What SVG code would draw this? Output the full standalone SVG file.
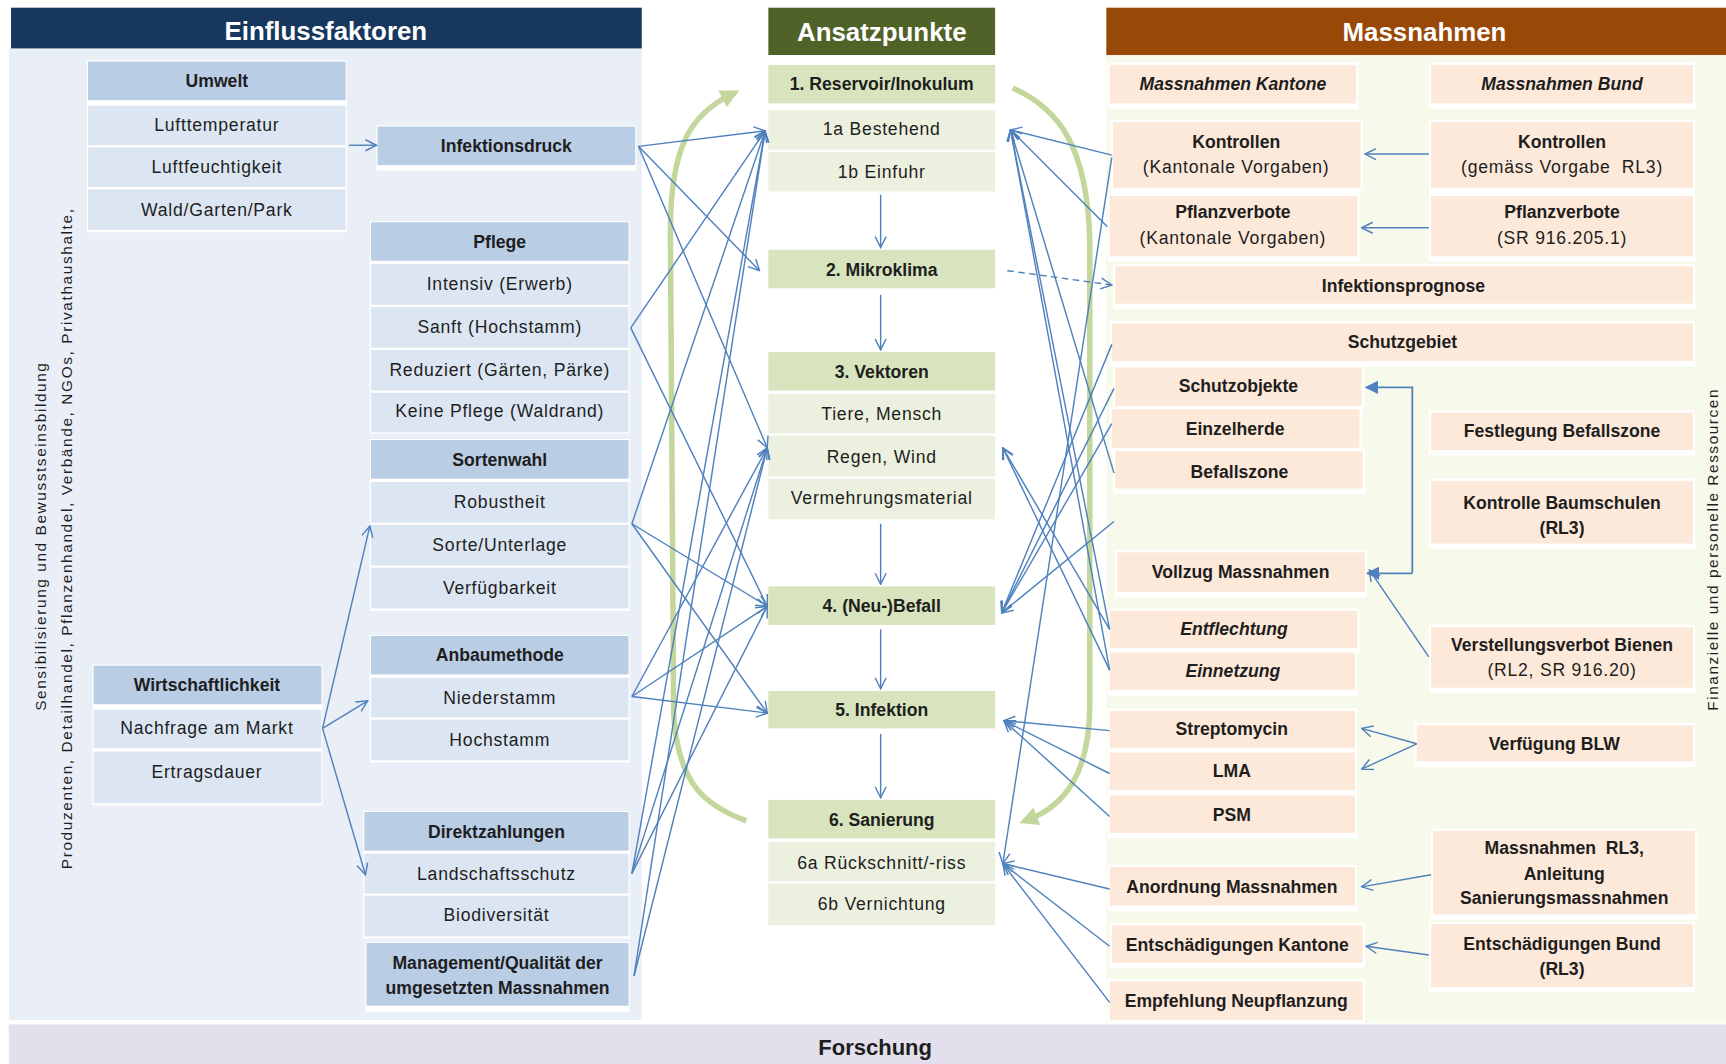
<svg xmlns="http://www.w3.org/2000/svg" width="1726" height="1064" viewBox="0 0 1726 1064">
<defs>
<style>
text{font-family:"Liberation Sans",Arial,sans-serif;fill:#1e1e1e;text-anchor:middle;dominant-baseline:central}
.r{font-size:16px;letter-spacing:0.7px}
.b{font-size:16px;font-weight:bold}
.bi{font-size:16px;font-weight:bold;font-style:italic}
.hd{font-size:23.5px;font-weight:bold;fill:#fff}
.vt{font-size:14px}
.fo{font-size:20px;font-weight:bold}
.pre{white-space:pre}
.sh{fill:#fff}
.lh{fill:#B9CDE5}
.li{fill:#DCE6F2}
.mh{fill:#D7E4BD}
.mi{fill:#EBF1DE}
.o{fill:#FDE9D9}
.c{fill:none;stroke:#4F81BD;stroke-width:1.3;marker-end:url(#v)}
.cf{fill:none;stroke:#4F81BD;stroke-width:1.6;marker-end:url(#ft)}
.cd{stroke-dasharray:6 4}
.gr{fill:none;stroke:#C3D69B;stroke-width:5;marker-end:url(#ga)}
</style>
<marker id="v" viewBox="0 0 12 12" refX="11" refY="6" markerWidth="12" markerHeight="12" markerUnits="userSpaceOnUse" orient="auto"><path d="M1,1 L11,6 L1,11" fill="none" stroke="#4F81BD" stroke-width="1.3"/></marker>
<marker id="ft" viewBox="0 0 10 10" refX="9" refY="5" markerWidth="12" markerHeight="12" markerUnits="userSpaceOnUse" orient="auto"><path d="M0,0 L10,5 L0,10 Z" fill="#4F81BD"/></marker>
<marker id="ga" viewBox="0 0 10 10" refX="5" refY="5" markerWidth="17" markerHeight="17" markerUnits="userSpaceOnUse" orient="auto"><path d="M0,0 L10,5 L0,10 Z" fill="#C3D69B"/></marker>
</defs>
<rect width="1726" height="1064" fill="#fff"/>
<g transform="scale(1.1008 1.1003)">

<!-- panels -->
<g id="panels">
<rect x="8" y="44" width="575" height="883" fill="#EAEFF7"/>
<rect x="1005" y="50" width="563" height="880" fill="#F7F9EA"/>
<rect x="8" y="931" width="1560" height="36" fill="#E4DFEC"/>
<text class="fo" x="795" y="952">Forschung</text>
</g>

<!-- column headers -->
<g id="hdr-einfluss"><rect x="10" y="7" width="573" height="37" fill="#17375E"/><text class="hd" x="296" y="28">Einflussfaktoren</text></g>
<g id="hdr-ansatz"><rect x="698" y="7" width="206" height="43" fill="#4F6228"/><text class="hd" x="801" y="29">Ansatzpunkte</text></g>
<g id="hdr-massnahmen"><rect x="1005" y="7" width="563" height="43" fill="#984807"/><text class="hd" x="1294" y="29">Massnahmen</text></g>

<!-- side labels -->
<g id="side-left">
<text class="vt" transform="translate(37 488) rotate(-90)" textLength="316" lengthAdjust="spacing">Sensibilisierung und Bewusstseinsbildung</text>
<text class="vt" transform="translate(60 490) rotate(-90)" textLength="600" lengthAdjust="spacing">Produzenten, Detailhandel, Pflanzenhandel, Verbände, NGOs,  Privathaushalte,</text>
</g>
<g id="side-right">
<text class="vt" transform="translate(1556 500) rotate(-90)" textLength="292" lengthAdjust="spacing">Finanzielle und personelle Ressourcen</text>
</g>

<!-- Einflussfaktoren -->
<g id="umwelt">
<rect class="sh" x="79" y="55" width="236" height="156"/>
<rect class="lh" x="80" y="56" width="234" height="35"/><text class="b" x="197" y="74">Umwelt</text>
<rect class="li" x="80" y="96" width="234" height="36"/><text class="r" x="197" y="114">Lufttemperatur</text>
<rect class="li" x="80" y="134" width="234" height="36"/><text class="r" x="197" y="152">Luftfeuchtigkeit</text>
<rect class="li" x="80" y="172" width="234" height="37"/><text class="r" x="197" y="191">Wald/Garten/Park</text>
</g>
<g id="infektionsdruck">
<rect class="sh" x="342" y="114" width="236" height="41"/>
<rect class="lh" x="343" y="115" width="234" height="35"/><text class="b" x="460" y="133">Infektionsdruck</text>
</g>
<g id="pflege">
<rect class="sh" x="336" y="201" width="236" height="193"/>
<rect class="lh" x="337" y="202" width="234" height="35"/><text class="b" x="454" y="220">Pflege</text>
<rect class="li" x="337" y="240" width="234" height="37"/><text class="r" x="454" y="258">Intensiv (Erwerb)</text>
<rect class="li" x="337" y="279" width="234" height="37"/><text class="r" x="454" y="297">Sanft (Hochstamm)</text>
<rect class="li" x="337" y="318" width="234" height="37"/><text class="r" x="454" y="336">Reduziert (Gärten, Pärke)</text>
<rect class="li" x="337" y="357" width="234" height="36"/><text class="r" x="454" y="374">Keine Pflege (Waldrand)</text>
</g>
<g id="sortenwahl">
<rect class="sh" x="336" y="399" width="236" height="156"/>
<rect class="lh" x="337" y="400" width="234" height="35"/><text class="b" x="454" y="418">Sortenwahl</text>
<rect class="li" x="337" y="438" width="234" height="37"/><text class="r" x="454" y="456">Robustheit</text>
<rect class="li" x="337" y="477" width="234" height="37"/><text class="r" x="454" y="495">Sorte/Unterlage</text>
<rect class="li" x="337" y="516" width="234" height="37"/><text class="r" x="454" y="534">Verfügbarkeit</text>
</g>
<g id="anbaumethode">
<rect class="sh" x="336" y="577" width="236" height="116"/>
<rect class="lh" x="337" y="578" width="234" height="35"/><text class="b" x="454" y="595">Anbaumethode</text>
<rect class="li" x="337" y="616" width="234" height="36"/><text class="r" x="454" y="634">Niederstamm</text>
<rect class="li" x="337" y="654" width="234" height="37"/><text class="r" x="454" y="673">Hochstamm</text>
</g>
<g id="direktzahlungen">
<rect class="sh" x="330" y="737" width="242" height="116"/>
<rect class="lh" x="331" y="738" width="240" height="35"/><text class="b" x="451" y="756">Direktzahlungen</text>
<rect class="li" x="331" y="776" width="240" height="36"/><text class="r" x="451" y="794">Landschaftsschutz</text>
<rect class="li" x="331" y="814" width="240" height="37"/><text class="r" x="451" y="832">Biodiversität</text>
</g>
<g id="management">
<rect class="sh" x="332" y="856" width="240" height="64"/>
<rect class="lh" x="333" y="857" width="238" height="57"/>
<text class="b" x="452" y="875">Management/Qualität der</text>
<text class="b" x="452" y="898">umgesetzten Massnahmen</text>
</g>
<g id="wirtschaftlichkeit">
<rect class="sh" x="84" y="604" width="209" height="128"/>
<rect class="lh" x="85" y="605" width="207" height="35"/><text class="b" x="188" y="623">Wirtschaftlichkeit</text>
<rect class="li" x="85" y="645" width="207" height="35"/><text class="r" x="188" y="662">Nachfrage am Markt</text>
<rect class="li" x="85" y="683" width="207" height="47"/><text class="r" x="188" y="702">Ertragsdauer</text>
</g>

<!-- Ansatzpunkte -->
<g id="reservoir">
<rect class="mh" x="698" y="59" width="206" height="35"/><text class="b" x="801" y="76">1. Reservoir/Inokulum</text>
<rect class="mi" x="698" y="100" width="206" height="36"/><text class="r" x="801" y="117">1a Bestehend</text>
<rect class="mi" x="698" y="138" width="206" height="36"/><text class="r" x="801" y="156">1b Einfuhr</text>
</g>
<g id="mikroklima">
<rect class="mh" x="698" y="227" width="206" height="35"/><text class="b" x="801" y="245">2. Mikroklima</text>
</g>
<g id="vektoren">
<rect class="mh" x="698" y="320" width="206" height="35"/><text class="b" x="801" y="338">3. Vektoren</text>
<rect class="mi" x="698" y="358" width="206" height="36"/><text class="r" x="801" y="376">Tiere, Mensch</text>
<rect class="mi" x="698" y="396" width="206" height="37"/><text class="r" x="801" y="415">Regen, Wind</text>
<rect class="mi" x="698" y="435" width="206" height="37"/><text class="r" x="801" y="453">Vermehrungsmaterial</text>
</g>
<g id="befall">
<rect class="mh" x="698" y="533" width="206" height="35"/><text class="b" x="801" y="551">4. (Neu-)Befall</text>
</g>
<g id="infektion">
<rect class="mh" x="698" y="628" width="206" height="34"/><text class="b" x="801" y="645">5. Infektion</text>
</g>
<g id="sanierung">
<rect class="mh" x="698" y="727" width="206" height="35"/><text class="b" x="801" y="745">6. Sanierung</text>
<rect class="mi" x="698" y="765" width="206" height="36"/><text class="r" x="801" y="784">6a Rückschnitt/-riss</text>
<rect class="mi" x="698" y="803" width="206" height="38"/><text class="r" x="801" y="822">6b Vernichtung</text>
</g>

<!-- Massnahmen -->
<g id="m-kantone"><rect class="sh" x="1006" y="57" width="228" height="42"/><rect class="o" x="1008" y="59" width="224" height="35"/><text class="bi" x="1120" y="76">Massnahmen Kantone</text></g>
<g id="m-bund"><rect class="sh" x="1298" y="57" width="242" height="42"/><rect class="o" x="1300" y="59" width="238" height="35"/><text class="bi" x="1419" y="76">Massnahmen Bund</text></g>
<g id="kontrollen-k"><rect class="sh" x="1009" y="109" width="229" height="67"/><rect class="o" x="1011" y="111" width="225" height="60"/><text class="b" x="1123" y="129">Kontrollen</text><text class="r" x="1123" y="152">(Kantonale Vorgaben)</text></g>
<g id="kontrollen-b"><rect class="sh" x="1298" y="109" width="242" height="67"/><rect class="o" x="1300" y="111" width="238" height="60"/><text class="b" x="1419" y="129">Kontrollen</text><text class="r pre" x="1419" y="152">(gemäss Vorgabe  RL3)</text></g>
<g id="pflanzverbote-k"><rect class="sh" x="1006" y="176" width="229" height="62"/><rect class="o" x="1008" y="178" width="225" height="55"/><text class="b" x="1120" y="193">Pflanzverbote</text><text class="r" x="1120" y="216">(Kantonale Vorgaben)</text></g>
<g id="pflanzverbote-b"><rect class="sh" x="1298" y="176" width="242" height="62"/><rect class="o" x="1300" y="178" width="238" height="55"/><text class="b" x="1419" y="193">Pflanzverbote</text><text class="r" x="1419" y="216">(SR 916.205.1)</text></g>
<g id="infektionsprognose"><rect class="sh" x="1011" y="240" width="529" height="41"/><rect class="o" x="1013" y="242" width="525" height="34"/><text class="b" x="1275" y="260">Infektionsprognose</text></g>
<g id="schutzgebiet"><rect class="sh" x="1008" y="292" width="532" height="41"/><rect class="o" x="1010" y="294" width="528" height="34"/><text class="b" x="1274" y="311">Schutzgebiet</text></g>
<g id="schutzobjekte"><rect class="sh" x="1011" y="332" width="228" height="41"/><rect class="o" x="1013" y="334" width="224" height="35"/><text class="b" x="1125" y="351">Schutzobjekte</text></g>
<g id="einzelherde"><rect class="sh" x="1008" y="370" width="229" height="42"/><rect class="o" x="1010" y="372" width="225" height="35"/><text class="b" x="1122" y="390">Einzelherde</text></g>
<g id="befallszone"><rect class="sh" x="1011" y="408" width="229" height="41"/><rect class="o" x="1013" y="410" width="225" height="34"/><text class="b" x="1126" y="429">Befallszone</text></g>
<g id="festlegung"><rect class="sh" x="1298" y="373" width="242" height="41"/><rect class="o" x="1300" y="375" width="238" height="34"/><text class="b" x="1419" y="392">Festlegung Befallszone</text></g>
<g id="kontrolle-baumschulen"><rect class="sh" x="1298" y="435" width="242" height="64"/><rect class="o" x="1300" y="437" width="238" height="57"/><text class="b" x="1419" y="457">Kontrolle Baumschulen</text><text class="b" x="1419" y="480">(RL3)</text></g>
<g id="vollzug"><rect class="sh" x="1013" y="500" width="229" height="43"/><rect class="o" x="1015" y="502" width="225" height="36"/><text class="b" x="1127" y="520">Vollzug Massnahmen</text></g>
<g id="entflechtung"><rect class="sh" x="1006" y="553" width="229" height="41"/><rect class="o" x="1008" y="555" width="225" height="34"/><text class="bi" x="1121" y="572">Entflechtung</text></g>
<g id="einnetzung"><rect class="sh" x="1006" y="591" width="227" height="41"/><rect class="o" x="1008" y="593" width="223" height="34"/><text class="bi" x="1120" y="610">Einnetzung</text></g>
<g id="verstellungsverbot"><rect class="sh" x="1298" y="568" width="242" height="62"/><rect class="o" x="1300" y="570" width="238" height="55"/><text class="b" x="1419" y="586">Verstellungsverbot Bienen</text><text class="r" x="1419" y="609">(RL2, SR 916.20)</text></g>
<g id="streptomycin"><rect class="sh" x="1006" y="644" width="227" height="41"/><rect class="o" x="1008" y="646" width="223" height="34"/><text class="b" x="1119" y="663">Streptomycin</text></g>
<g id="lma"><rect class="sh" x="1006" y="682" width="227" height="41"/><rect class="o" x="1008" y="684" width="223" height="34"/><text class="b" x="1119" y="701">LMA</text></g>
<g id="psm"><rect class="sh" x="1006" y="721" width="227" height="41"/><rect class="o" x="1008" y="723" width="223" height="34"/><text class="b" x="1119" y="741">PSM</text></g>
<g id="verfuegung-blw"><rect class="sh" x="1285" y="657" width="255" height="40"/><rect class="o" x="1287" y="659" width="251" height="33"/><text class="b" x="1412" y="676">Verfügung BLW</text></g>
<g id="anordnung"><rect class="sh" x="1006" y="786" width="227" height="42"/><rect class="o" x="1008" y="788" width="223" height="35"/><text class="b" x="1119" y="806">Anordnung Massnahmen</text></g>
<g id="massnahmen-rl3"><rect class="sh" x="1300" y="753" width="242" height="83"/><rect class="o" x="1302" y="755" width="238" height="76"/><text class="b pre" x="1421" y="771">Massnahmen  RL3,</text><text class="b" x="1421" y="794">Anleitung</text><text class="b" x="1421" y="816">Sanierungsmassnahmen</text></g>
<g id="entschaedigungen-k"><rect class="sh" x="1008" y="839" width="232" height="41"/><rect class="o" x="1010" y="841" width="228" height="34"/><text class="b" x="1124" y="859">Entschädigungen Kantone</text></g>
<g id="entschaedigungen-b"><rect class="sh" x="1298" y="838" width="242" height="64"/><rect class="o" x="1300" y="840" width="238" height="57"/><text class="b" x="1419" y="858">Entschädigungen Bund</text><text class="b" x="1419" y="881">(RL3)</text></g>
<g id="empfehlung"><rect class="sh" x="1006" y="890" width="234" height="40"/><rect class="o" x="1008" y="892" width="230" height="35"/><text class="b" x="1123" y="910">Empfehlung Neupflanzung</text></g>

<!-- connectors -->
<g id="connectors">
<!-- cycle arcs -->
<path class="gr" d="M678,746 C640,732 616,712 612,650 L609,210 C609,132 628,104 664,86"/>
<path class="gr" d="M920,80 C960,98 988,130 990,220 L990,640 C990,702 968,732 934,745"/>

<!-- inside Einflussfaktoren -->
<path class="c" d="M317,132 L342,132"/>
<path class="c" d="M293,662 L336,478"/>
<path class="c" d="M293,662 L334,637"/>
<path class="c" d="M293,662 L332,795"/>

<!-- Einflussfaktoren to Ansatzpunkte -->
<path class="c" d="M580,133 L695,119"/>
<path class="c" d="M580,133 L690,246"/>
<path class="c" d="M580,133 L697,407"/>
<path class="c" d="M573,298 L695,119"/>
<path class="c" d="M573,298 L697,551"/>
<path class="c" d="M574,476 L695,119"/>
<path class="c" d="M574,476 L697,551"/>
<path class="c" d="M574,476 L697,648"/>
<path class="c" d="M574,633 L697,407"/>
<path class="c" d="M574,633 L697,551"/>
<path class="c" d="M574,633 L697,648"/>
<path class="c" d="M574,794 L695,119"/>
<path class="c" d="M574,794 L697,407"/>
<path class="c" d="M574,794 L697,551"/>
<path class="c" d="M576,887 L695,119"/>
<path class="c" d="M576,887 L697,407"/>

<!-- sequence of Ansatzpunkte -->
<path class="c" d="M800,177 L800,225"/>
<path class="c" d="M800,268 L800,318"/>
<path class="c" d="M800,476 L800,531"/>
<path class="c" d="M800,572 L800,626"/>
<path class="c" d="M800,667 L800,725"/>

<!-- Massnahmen to Ansatzpunkte -->
<path class="c" d="M1010,141 L918,118"/>
<path class="c" d="M1006,206 L918,118"/>
<path class="c" d="M1012,430 L918,118"/>
<path class="c" d="M1008,572 L918,118"/>
<path class="c" d="M1008,609 L918,118"/>
<path class="c" d="M1008,572 L911,407"/>
<path class="c" d="M1008,609 L911,407"/>
<path class="c" d="M1010,313 L910,557"/>
<path class="c" d="M1012,353 L910,557"/>
<path class="c" d="M1010,385 L910,557"/>
<path class="c" d="M1012,474 L910,557"/>
<path class="c" d="M1008,664 L912,655"/>
<path class="c" d="M1008,703 L912,655"/>
<path class="c" d="M1008,742 L912,655"/>
<path class="c" d="M1010,143 L911,785"/>
<path class="c" d="M1008,808 L911,785"/>
<path class="c" d="M1008,860 L911,785"/>
<path class="c" d="M1008,911 L911,785"/>
<path class="c cd" d="M915,246 L1010,259"/>

<!-- Bund to Kantone -->
<path class="c" d="M1298,140 L1240,140"/>
<path class="c" d="M1298,207 L1237,207"/>
<path class="cf" d="M1283,521 L1283,352 L1241,352"/>
<path class="cf" d="M1283,521 L1242,521"/>
<path class="c" d="M1298,597 L1244,518"/>
<path class="c" d="M1287,676 L1237,662"/>
<path class="c" d="M1287,676 L1237,699"/>
<path class="c" d="M1300,795 L1237,806"/>
<path class="c" d="M1298,868 L1241,860"/>
</g>
</g>
</svg>
